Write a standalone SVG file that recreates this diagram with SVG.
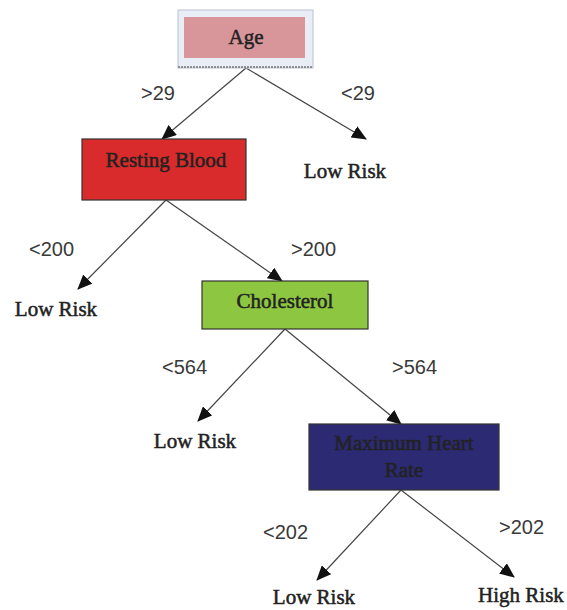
<svg xmlns="http://www.w3.org/2000/svg" width="567" height="610" viewBox="0 0 567 610">
<style>
.edge{stroke:#444;stroke-width:1.2;fill:none;marker-end:url(#arr)}
.lbl{font-family:"Liberation Sans",Arial,sans-serif;font-size:20px;fill:#3a3a3a}
.nt{font-family:"Liberation Serif","Times New Roman",serif;font-size:21px;fill:#222;stroke:#222;stroke-width:0.5;text-anchor:middle}
.box{stroke:#333;stroke-width:1.2}
</style>
<defs>
<marker id="arr" markerWidth="15" markerHeight="13" refX="14" refY="6.5" orient="auto" markerUnits="userSpaceOnUse">
<path d="M0,0 L15,6.5 L0,13 Z" fill="#111"/>
</marker>
</defs>
<rect width="567" height="610" fill="#fff"/>
<g id="connectors">
<line class="edge" x1="246" y1="68" x2="162" y2="139"/>
<line class="edge" x1="246" y1="68" x2="366" y2="139"/>
<line class="edge" x1="166" y1="200" x2="78" y2="289"/>
<line class="edge" x1="166" y1="200" x2="282" y2="281"/>
<line class="edge" x1="285" y1="329" x2="198" y2="421"/>
<line class="edge" x1="285" y1="329" x2="401" y2="424"/>
<line class="edge" x1="401" y1="490" x2="317" y2="580"/>
<line class="edge" x1="401" y1="490" x2="514" y2="577"/>
</g>
<g id="labels">
<text class="lbl" x="141" y="100">&gt;29</text>
<text class="lbl" x="341" y="100">&lt;29</text>
<text class="lbl" x="29" y="256">&lt;200</text>
<text class="lbl" x="291" y="256">&gt;200</text>
<text class="lbl" x="162" y="374">&lt;564</text>
<text class="lbl" x="392" y="374">&gt;564</text>
<text class="lbl" x="263" y="539">&lt;202</text>
<text class="lbl" x="499" y="534">&gt;202</text>
</g>
<g id="age">
<rect x="178" y="10" width="135" height="58" fill="#e9edf5" stroke="#b8c0d0" stroke-width="1"/>
<line x1="178" y1="67" x2="313" y2="67" stroke="#777" stroke-width="1.5" stroke-dasharray="2,1"/>
<rect x="184" y="17" width="121" height="41" fill="#d8969b"/>
<text class="nt" x="246" y="44">Age</text>
</g>
<g id="resting-blood">
<rect class="box" x="82" y="139" width="164" height="61" fill="#d92b2b"/>
<text class="nt" x="166" y="167">Resting Blood</text>
</g>
<g id="low-risk-1">
<text class="nt" x="345" y="178">Low Risk</text>
</g>
<g id="low-risk-2">
<text class="nt" x="56" y="316">Low Risk</text>
</g>
<g id="cholesterol">
<rect class="box" x="202" y="281" width="166" height="48" fill="#8dc641"/>
<text class="nt" x="285" y="308">Cholesterol</text>
</g>
<g id="low-risk-3">
<text class="nt" x="195" y="448">Low Risk</text>
</g>
<g id="max-heart-rate">
<rect class="box" x="309" y="424" width="190" height="66" fill="#2b2a72"/>
<text class="nt" x="404" y="450" fill="#1a1a30" stroke="#1a1a30">Maximum Heart</text>
<text class="nt" x="404" y="477" fill="#1a1a30" stroke="#1a1a30">Rate</text>
</g>
<g id="low-risk-4">
<text class="nt" x="314" y="604">Low Risk</text>
</g>
<g id="high-risk">
<text class="nt" x="521" y="602">High Risk</text>
</g>
</svg>
